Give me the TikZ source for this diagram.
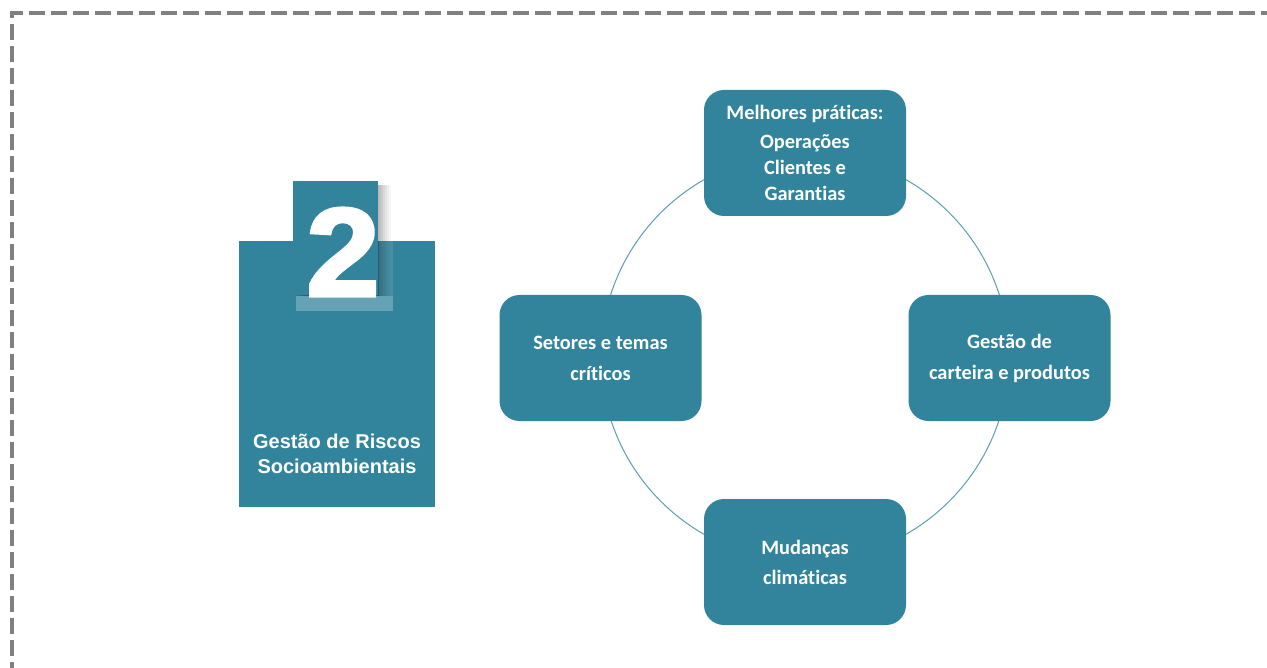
\documentclass[tikz,border=0pt]{standalone}
\usepackage{fontspec}
\setmainfont[Ligatures=NoCommon]{Carlito}
\newfontfamily\arialfont{Liberation Sans}
\newfontfamily\heavyfont[FakeBold=2.5]{Liberation Sans Bold}
\definecolor{teal1}{HTML}{31849B}
\definecolor{ringc}{HTML}{5C9FB3}
\definecolor{dashgray}{HTML}{808080}
\begin{document}
\begin{tikzpicture}[x=1pt,y=-1pt,
  topic/.style={fill=teal1, draw=none, rounded corners=20pt, minimum width=202pt, minimum height=126pt,
     text=white, font=\bfseries\fontsize{20.4}{31}\selectfont, align=center, inner sep=0pt},
  panel/.style={fill=teal1, draw=none, inner sep=0pt},
  ring/.style={draw=ringc, line width=1pt},
  frame/.style={draw=dashgray, line width=4pt, dash pattern=on 16pt off 6pt}]
\clip (0,0) rectangle (1267,668);
\fill[white] (0,0) rectangle (1267,668);
% dashed frame
\draw[frame] (12,700) -- (12,13) -- (1300,13);
% ring
\coordinate (c) at (805,357);
\draw[ring] (c) circle[radius=204pt];
% topic boxes
\node[topic, font=\bfseries\fontsize{20.4}{26}\selectfont] (top) at (805,153) {Melhores práticas:\\[3pt]Operações\\Clientes e\\Garantias};
\node[topic] (left) at (600.5,358) {Setores e temas\\críticos};
\node[topic] (right) at (1009.5,358) {Gestão de\\carteira e produtos};
\node[topic, font=\bfseries\fontsize{20.4}{30}\selectfont] (bottom) at (805,562) {Mudanças\\climáticas};
% left panel
\fill[panel] (239,241) rectangle (435,507);
% shadow of the number tile
\foreach \d/\o in {0/0.05,2/0.05,4/0.05,6/0.05,8/0.04,10/0.04,12/0.03}{
  \fill[black, opacity=\o] (296+\d,185) rectangle (379+\d,296);
}
\fill[white, opacity=0.25] (296,296) rectangle (393,311);
\fill[white, opacity=0.10] (379,241) rectangle (393,296);
\node[panel, minimum width=85pt, minimum height=114pt, anchor=north west] (tile) at (293,181) {};
\node[anchor=base east, inner sep=0pt, text=white, font=\heavyfont\fontsize{126}{126}\selectfont, xscale=1.05] (num) at (380,296) {2};
\node[text=white, font=\arialfont\bfseries\fontsize{20}{25}\selectfont, align=center, inner sep=0pt] (title) at (337,454) {Gestão de Riscos\\Socioambientais};
\end{tikzpicture}
\end{document}
